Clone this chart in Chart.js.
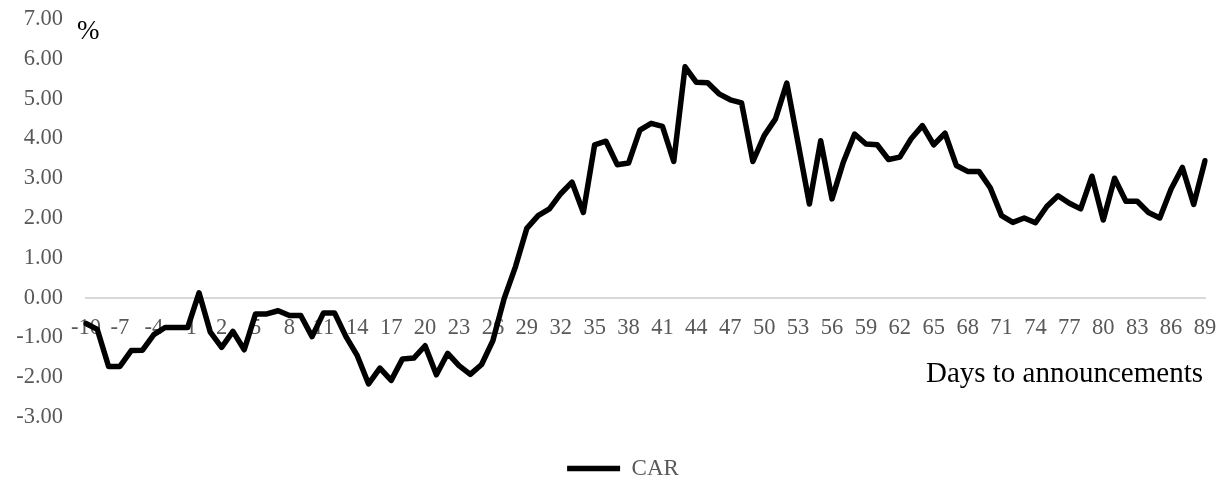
<!DOCTYPE html>
<html>
<head>
<meta charset="utf-8">
<script src="https://cdn.jsdelivr.net/npm/chart.js@4/dist/chart.umd.min.js"></script>
<style>
  html, body { margin: 0; padding: 0; background: #fff; }
  #wrap { width: 1223px; height: 482px; }
</style>
</head>
<body>
<div id="wrap"><canvas id="car-chart"></canvas></div>
<script>
// days relative to the announcement
const days = [
  -10, -9, -8, -7, -6, -5, -4, -3, -2, -1,
  0, 1, 2, 3, 4, 5, 6, 7, 8, 9,
  10, 11, 12, 13, 14, 15, 16, 17, 18, 19,
  20, 21, 22, 23, 24, 25, 26, 27, 28, 29,
  30, 31, 32, 33, 34, 35, 36, 37, 38, 39,
  40, 41, 42, 43, 44, 45, 46, 47, 48, 49,
  50, 51, 52, 53, 54, 55, 56, 57, 58, 59,
  60, 61, 62, 63, 64, 65, 66, 67, 68, 69,
  70, 71, 72, 73, 74, 75, 76, 77, 78, 79,
  80, 81, 82, 83, 84, 85, 86, 87, 88, 89
];

// cumulative abnormal return, %
const car = [
  -0.65, -0.80, -1.73, -1.73, -1.33, -1.32, -0.93, -0.75, -0.75, -0.75,
  0.12, -0.87, -1.25, -0.85, -1.31, -0.41, -0.41, -0.33, -0.45, -0.45,
  -0.98, -0.39, -0.39, -0.98, -1.46, -2.17, -1.77, -2.08, -1.54, -1.52,
  -1.21, -1.94, -1.40, -1.71, -1.93, -1.68, -1.08, -0.02, 0.78, 1.74,
  2.06, 2.23, 2.61, 2.90, 2.14, 3.84, 3.93, 3.34, 3.38, 4.21,
  4.38, 4.30, 3.42, 5.80, 5.41, 5.40, 5.12, 4.97, 4.89, 3.42,
  4.07, 4.49, 5.39, 3.88, 2.35, 3.94, 2.48, 3.40, 4.11, 3.86,
  3.84, 3.47, 3.53, 3.99, 4.32, 3.84, 4.13, 3.32, 3.17, 3.17,
  2.76, 2.06, 1.89, 2.00, 1.88, 2.29, 2.56, 2.37, 2.23, 3.05,
  1.95, 3.00, 2.42, 2.42, 2.14, 2.00, 2.73, 3.27, 2.34, 3.44
];

const yMin = -3;
const yMax = 7;
const labelEvery = 3;

const serif = "'Liberation Serif', 'Times New Roman', serif";
const grey = "#595959";

// the two free-standing axis captions
const captions = {
  id: "captions",
  afterLayout(chart) {
    // Excel centres the legend a little right of the canvas middle
    chart.legend.left += 14;
    chart.legend.right += 14;
  },
  afterDraw(chart) {
    const ctx = chart.ctx;
    ctx.save();
    ctx.fillStyle = "#000";
    ctx.textBaseline = "alphabetic";
    ctx.font = "27px " + serif;
    ctx.textAlign = "left";
    ctx.fillText("%", 77, 39);
    ctx.font = "29px " + serif;
    ctx.textAlign = "right";
    ctx.fillText("Days to announcements", 1203, 382);
    ctx.restore();
  }
};

let config = {
  type: "line",
  data: {
    labels: days.map(String),
    datasets: [
      {
        label: "CAR",
        data: car,
        borderColor: "#000",
        backgroundColor: "#000",
        borderWidth: 5.5,
        borderJoinStyle: "round",
        borderCapStyle: "round",
        pointRadius: 0,
        tension: 0,
        fill: false,
      },
    ],
  },
  options: {
    responsive: true,
    maintainAspectRatio: false,
    animation: false,
    layout: {
      padding: { left: 13, right: 18, top: 19, bottom: -8 },
    },
    plugins: {
      legend: {
        position: "bottom",
        labels: {
          usePointStyle: true,
          pointStyle: "line",
          pointStyleWidth: 53,
          padding: 40,
          color: grey,
          font: { family: serif, size: 23 },
        },
      },
      tooltip: { enabled: false },
    },
    scales: {
      x: {
        type: "category",
        position: { y: 0 },
        offset: false,
        grid: { display: false, drawTicks: false },
        border: { display: true, color: "#d9d9d9", width: 2 },
        afterFit: function (scale) {
          scale.paddingLeft = 0;
          scale.paddingRight = 0;
        },
        ticks: {
          autoSkip: false,
          maxRotation: 0,
          padding: 17,
          color: grey,
          font: { family: serif, size: 22.5 },
          callback: function (value, index) {
            return index % labelEvery === 0 ? this.getLabelForValue(value) : "";
          },
        },
      },
      y: {
        min: yMin,
        max: yMax,
        grid: { display: false, drawTicks: false },
        border: { display: false },
        afterFit: function (scale) {
          scale.width = 73;
          // tick padding is only meant to push labels left, not down
          scale.paddingTop = 0;
          scale.paddingBottom = 0;
        },
        ticks: {
          stepSize: 1,
          padding: 23,
          color: grey,
          font: { family: serif, size: 22.5 },
          callback: function (value) {
            return Number(value).toFixed(2);
          },
        },
      },
    },
  },
  plugins: [captions],
};

let ctx = document.getElementById("car-chart").getContext("2d");
window.myLine = new Chart(ctx, config);
</script>
</body>
</html>
